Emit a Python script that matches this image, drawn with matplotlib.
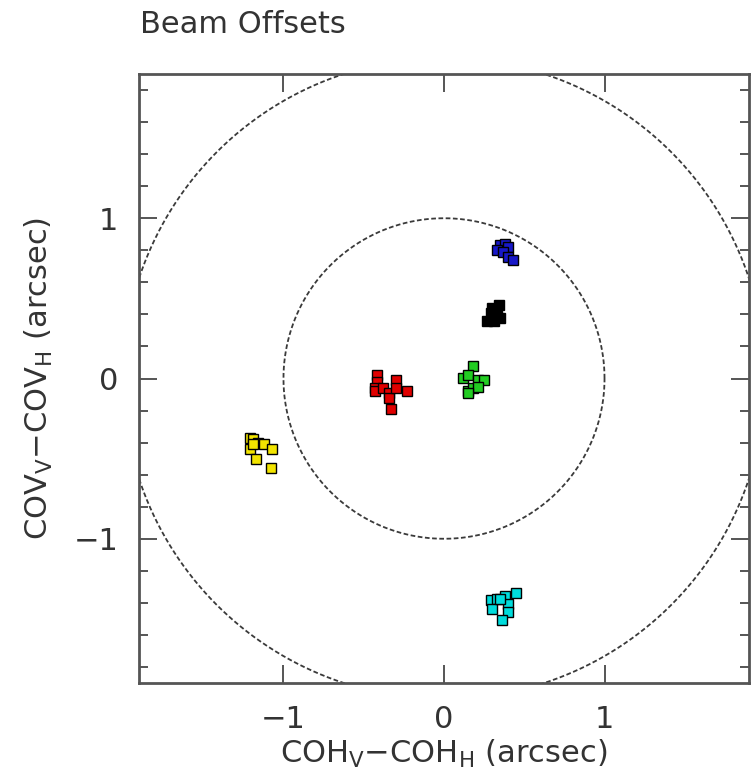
#!/usr/bin/env python3
"""Beam offsets: COH / COV differences per receiver cluster."""

import numpy as np
import matplotlib
matplotlib.use("Agg")
import matplotlib.pyplot as plt
from matplotlib.ticker import MultipleLocator

# offsets in arcsec, one cluster per colour
red_x = [-0.42, -0.42, -0.43, -0.43, -0.38, -0.34, -0.34, -0.30, -0.30, -0.23, -0.33]
red_y = [0.02, -0.02, -0.06, -0.08, -0.06, -0.09, -0.12, -0.01, -0.06, -0.075, -0.19]

green_x = [0.18, 0.12, 0.15, 0.21, 0.25, 0.15, 0.18, 0.21, 0.15]
green_y = [0.075, 0.006, 0.02, -0.01, -0.01, -0.075, -0.06, -0.056, -0.09]

yellow_x = [-1.21, -1.19, -1.21, -1.16, -1.12, -1.07, -1.17, -1.08, -1.19]
yellow_y = [-0.37, -0.375, -0.44, -0.40, -0.41, -0.44, -0.50, -0.56, -0.41]

blue_x = [0.35, 0.38, 0.40, 0.33, 0.37, 0.40, 0.43]
blue_y = [0.83, 0.84, 0.82, 0.80, 0.79, 0.76, 0.74]

black_x = [0.30, 0.34, 0.29, 0.33, 0.27, 0.31, 0.35]
black_y = [0.44, 0.46, 0.41, 0.39, 0.36, 0.36, 0.38]

cyan_x = [0.29, 0.33, 0.38, 0.45, 0.30, 0.40, 0.40, 0.36, 0.35]
cyan_y = [-1.38, -1.375, -1.36, -1.34, -1.44, -1.41, -1.46, -1.51, -1.375]

circle_radii = [1.0, 2.0]

TXT = "#333333"
FS = 22

fig = plt.figure(figsize=(7.51, 7.76), dpi=100)
ax = fig.add_axes([139 / 751, 1 - 683 / 776, 610 / 751, 609 / 776])

theta = np.linspace(0, 2 * np.pi, 720)
for r in circle_radii:
    ax.plot(r * np.cos(theta), r * np.sin(theta), ls=(0, (2.6, 1.4)),
            lw=1.3, c="#3a3a3a", zorder=1)

clusters = [
    (red_x, red_y, "#e00000"),
    (green_x, green_y, "#22cc22"),
    (yellow_x, yellow_y, "#f2e400"),
    (blue_x, blue_y, "#1818c8"),
    (black_x, black_y, "#000000"),
    (cyan_x, cyan_y, "#00dcdc"),
]
for xs, ys, col in clusters:
    ax.plot(xs, ys, ls="none", marker="s", ms=7, mfc=col, mec="black",
            mew=1.0, zorder=3)

ax.set_xlim(-1.9, 1.9)
ax.set_ylim(-1.9, 1.9)
ax.set_xticks([-1, 0, 1])
ax.set_yticks([-1, 0, 1])
ax.set_xticklabels(["\u22121", "0", "1"])
ax.set_yticklabels(["\u22121", "0", "1"])
ax.yaxis.set_minor_locator(MultipleLocator(0.2))

ax.tick_params(which="both", direction="in", top=True, right=True,
               colors="#555555", labelcolor=TXT, labelsize=FS, width=1.4)
ax.tick_params(which="major", length=13, pad=16)
ax.tick_params(axis="y", which="major", pad=15)
ax.tick_params(which="minor", length=6.5)
for s in ax.spines.values():
    s.set_linewidth(2.0)
    s.set_color("#555555")

ax.set_xlabel(r"COH$_{\rm V}$$-$COH$_{\rm H}$ (arcsec)", fontsize=FS,
              color=TXT, labelpad=3)
ax.set_ylabel(r"COV$_{\rm V}$$-$COV$_{\rm H}$ (arcsec)", fontsize=FS,
              color=TXT, labelpad=13)

fig.text(140 / 751, 1 - 33 / 776, "Beam Offsets", fontsize=FS,
         color=TXT, ha="left", va="baseline")

fig.savefig("out.png", dpi=100)
